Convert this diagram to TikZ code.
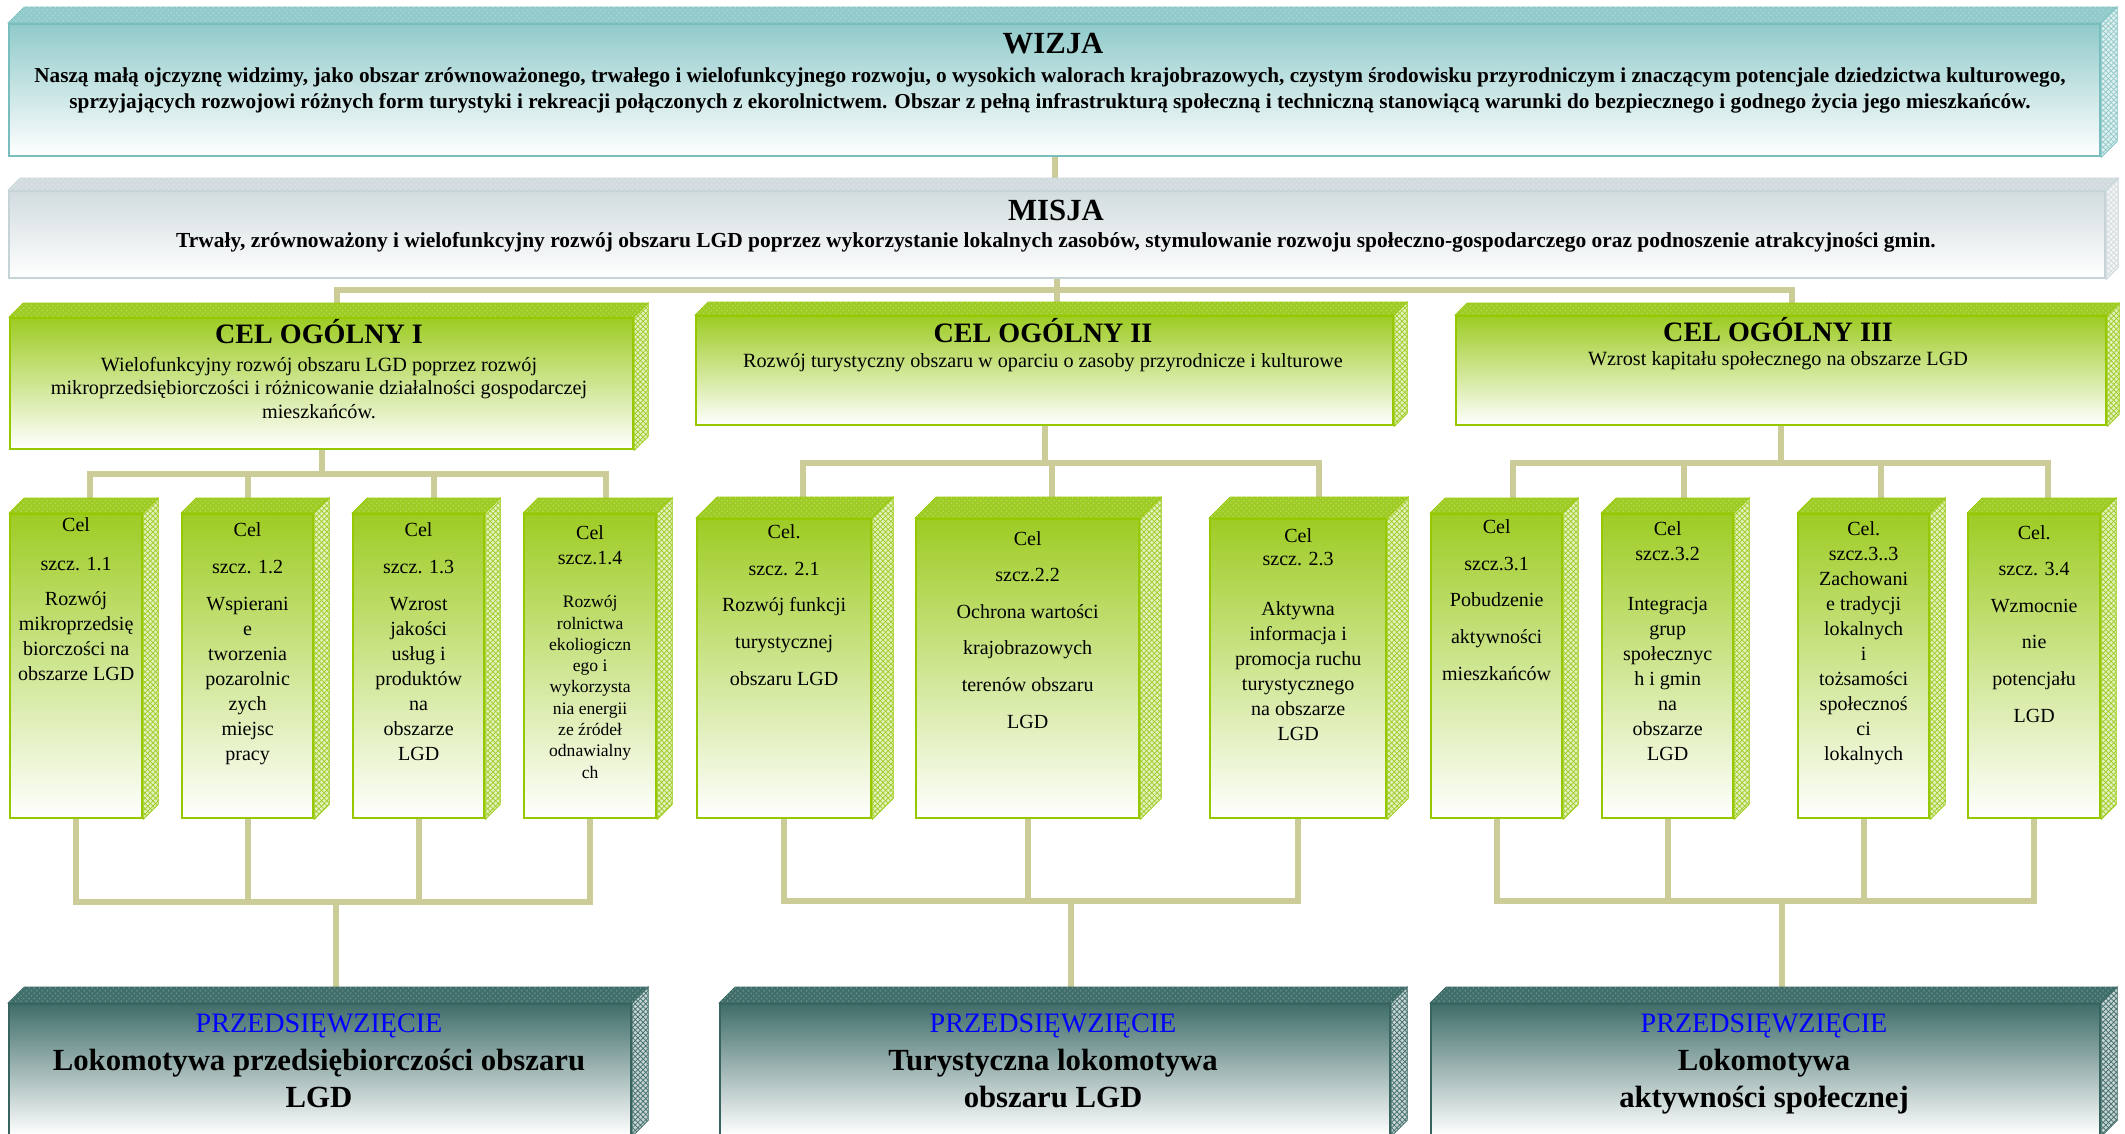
\documentclass[tikz,border=0pt]{standalone}
\usepackage{fontspec}
\setmainfont{Liberation Serif}
\usetikzlibrary{calc, backgrounds, patterns}
\definecolor{wizjacol}{RGB}{145,202,202}
\definecolor{wizjaline}{RGB}{120,190,190}
\definecolor{misjacol}{RGB}{210,220,223}
\definecolor{misjaline}{RGB}{198,212,216}
\definecolor{celcol}{RGB}{158,204,36}
\definecolor{celline}{RGB}{150,200,0}
\definecolor{przcol}{RGB}{64,110,106}
\definecolor{przline}{RGB}{56,100,96}
\definecolor{linkcol}{RGB}{204,204,153}
\definecolor{przblue}{RGB}{0,0,255}

% top and side faces of a box drawn from its front node
\newcommand{\boxfaces}[4][15]{%
  \filldraw[draw=#4, fill=#3, postaction={pattern=crosshatch dots, pattern color=#3!75!white}]
    (#2.north west) -- ++(#1,-#1) -- ($(#2.north east)+(#1,-#1)$) -- (#2.north east) -- cycle;
  \filldraw[draw=#4, fill=#3!30!white, postaction={pattern=crosshatch, pattern color=#3}]
    (#2.north east) -- ++(#1,-#1) -- ($(#2.south east)+(#1,-#1)$) -- (#2.south east) -- cycle;
}

\begin{document}
\begin{tikzpicture}[
    x=0.02cm, y=-0.02cm,
    dims/.style 2 args={minimum width=#1*0.02cm, minimum height=#2*0.02cm},
    front/.style={inner sep=0pt, anchor=north west, line width=1.3pt},
    wizjabox/.style={front, draw=wizjaline, top color=wizjacol, middle color=wizjacol!35!white, bottom color=white},
    misjabox/.style={front, draw=misjaline, top color=misjacol, middle color=misjacol!40!white, bottom color=white},
    celbox/.style={front, draw=celline, top color=celcol, middle color=celcol!30!white, bottom color=white},
    przbox/.style={front, draw=przline, top color=przcol, middle color=przcol!35!white, bottom color=white},
    txt/.style={anchor=base, align=center, inner sep=0pt},
    celtxt/.style={txt, font=\fontsize{11.4}{14.2}\selectfont},
    celwide/.style={txt, font=\fontsize{11.4}{20.8}\selectfont},
    conn/.style={draw=linkcol, line width=3.5pt}
  ]
  \useasboundingbox (0,0) rectangle (2125,1133);

  % Wizja and misja (multi-line texts sit on their last baseline)
  \node[wizjabox, dims={2091}{132}] (wizja) at (8,23) {};
  \boxfaces[16]{wizja}{wizjacol}{wizjaline}
  \node[txt, font=\bfseries\fontsize{17.5}{20}\selectfont] (wizjat) at (1053,53) {WIZJA};
  \node[txt, font=\bfseries\fontsize{12.1}{14.8}\selectfont] (wizjab) at (1050,108)
    {Naszą małą ojczyznę widzimy, jako obszar zrównoważonego, trwałego i wielofunkcyjnego rozwoju, o wysokich walorach krajobrazowych, czystym środowisku przyrodniczym i znaczącym potencjale dziedzictwa kulturowego,\\
     sprzyjających rozwojowi różnych form turystyki i rekreacji połączonych z ekorolnictwem. Obszar z pełną infrastrukturą społeczną i techniczną stanowiącą warunki do bezpiecznego i godnego życia jego mieszkańców.};

  \node[misjabox, dims={2096}{87}] (misja) at (8,190) {};
  \boxfaces[12]{misja}{misjacol}{misjaline}
  \node[txt, font=\bfseries\fontsize{17.5}{20}\selectfont] (misjat) at (1056,220) {MISJA};
  \node[txt, font=\bfseries\fontsize{12.2}{14.8}\selectfont] (misjab) at (1056,247)
    {Trwały, zrównoważony i wielofunkcyjny rozwój obszaru LGD poprzez wykorzystanie lokalnych zasobów, stymulowanie rozwoju społeczno-gospodarczego oraz podnoszenie atrakcyjności gmin.};

  % Cele ogolne
  \node[celbox, dims={623}{131}] (cel1) at (9,317) {};
  \boxfaces[14]{cel1}{celcol}{celline}
  \node[txt, font=\bfseries\fontsize{16}{19}\selectfont] (cel1t) at (319,343) {CEL OGÓLNY I};
  \node[txt, font=\fontsize{11.5}{13.1}\selectfont] (cel1b) at (319,418)
    {Wielofunkcyjny rozwój obszaru LGD poprzez rozwój\\ mikroprzedsiębiorczości i różnicowanie działalności gospodarczej\\ mieszkańców.};

  \node[celbox, dims={697}{109}] (cel2) at (695,315) {};
  \boxfaces[13]{cel2}{celcol}{celline}
  \node[txt, font=\bfseries\fontsize{16}{19}\selectfont] (cel2t) at (1043,342) {CEL OGÓLNY II};
  \node[txt, font=\fontsize{11.5}{13.1}\selectfont] (cel2b) at (1043,367)
    {Rozwój turystyczny obszaru w oparciu o zasoby przyrodnicze i kulturowe};

  \node[celbox, dims={650}{109}] (cel3) at (1455,315) {};
  \boxfaces[12]{cel3}{celcol}{celline}
  \node[txt, font=\bfseries\fontsize{16}{19}\selectfont] (cel3t) at (1778,341) {CEL OGÓLNY III};
  \node[txt, font=\fontsize{11.5}{13.1}\selectfont] (cel3b) at (1778,365)
    {Wzrost kapitału społecznego na obszarze LGD};

  % Cele szczegolowe 1
  \node[celbox, dims={132}{304}] (s11) at (9,513) {};
  \node[celbox, dims={131}{304}] (s12) at (181,513) {};
  \node[celbox, dims={131}{304}] (s13) at (352,513) {};
  \node[celbox, dims={132}{304}] (s14) at (523,513) {};
  % Cele szczegolowe 2
  \node[celbox, dims={174}{299}] (s21) at (696,518) {};
  \node[celbox, dims={223}{299}] (s22) at (915,518) {};
  \node[celbox, dims={176}{299}] (s23) at (1209,518) {};
  % Cele szczegolowe 3
  \node[celbox, dims={131}{304}] (s31) at (1430,513) {};
  \node[celbox, dims={131}{304}] (s32) at (1601,513) {};
  \node[celbox, dims={131}{304}] (s33) at (1797,513) {};
  \node[celbox, dims={132}{304}] (s34) at (1967,513) {};
  \foreach \n in {s11,s12,s13,s14,s31,s32,s33,s34}
    \boxfaces{\n}{celcol}{celline};
  \foreach \n in {s21,s22,s23}
    \boxfaces[21]{\n}{celcol}{celline};

  \node[celtxt] (t11) at ($(s11.north)+(0,167)$)
    {Cel\\[8pt] szcz. 1.1\\[5.7pt] Rozwój\\ mikroprzedsię\\ biorczości na\\ obszarze LGD};
  \node[celtxt] (t12) at ($(s12.north)+(0,247)$)
    {Cel\\[6.8pt] szcz. 1.2\\[6.8pt] Wspierani\\ e\\ tworzenia\\ pozarolnic\\ zych\\ miejsc\\ pracy};
  \node[celtxt] (t13) at ($(s13.north)+(0,247)$)
    {Cel\\[6.8pt] szcz. 1.3\\[6.8pt] Wzrost\\ jakości\\ usług i\\ produktów\\ na\\ obszarze\\ LGD};
  \node[txt, font=\fontsize{10}{12.1}\selectfont] (t14) at ($(s14.north)+(0,265)$)
    {{\fontsize{11.4}{14}\selectfont Cel}\\[2.1pt] {\fontsize{11.4}{14}\selectfont szcz.1.4}\\[12.9pt]
     Rozwój\\ rolnictwa\\ ekoliogiczn\\ ego i\\ wykorzysta\\ nia energii\\ ze źródeł\\ odnawialny\\ ch};
  \node[celwide] (t21) at ($(s21.north)+(0,167)$)
    {Cel.\\ szcz. 2.1\\ Rozwój funkcji\\ turystycznej\\ obszaru LGD};
  \node[celwide] (t22) at ($(s22.north)+(0,210)$)
    {Cel\\ szcz.2.2\\ Ochrona wartości\\ krajobrazowych\\ terenów obszaru\\ LGD};
  \node[celtxt] (t23) at ($(s23.north)+(0,222)$)
    {Cel\\[-1pt] szcz. 2.3\\[13.9pt] Aktywna\\ informacja i\\ promocja ruchu\\ turystycznego\\ na obszarze\\ LGD};
  \node[celwide] (t31) at ($(s31.north)+(0,167)$)
    {Cel\\ szcz.3.1\\ Pobudzenie\\ aktywności\\ mieszkańców};
  \node[celtxt] (t32) at ($(s32.north)+(0,247)$)
    {Cel\\ szcz.3.2\\[14.2pt] Integracja\\ grup\\ społecznyc\\ h i gmin\\ na\\ obszarze\\ LGD};
  \node[celtxt] (t33) at ($(s33.north)+(0,247)$)
    {Cel.\\ szcz.3..3\\ Zachowani\\ e tradycji\\ lokalnych\\ i\\ tożsamości\\ społecznoś\\ ci\\ lokalnych};
  \node[celwide] (t34) at ($(s34.north)+(0,209)$)
    {Cel.\\ szcz. 3.4\\ Wzmocnie\\ nie\\ potencjału\\ LGD};

  % Przedsiewziecia
  \node[przbox, dims={622}{131}] (prz1) at (8,1003) {};
  \node[przbox, dims={670}{131}] (prz2) at (719,1003) {};
  \node[przbox, dims={669}{131}] (prz3) at (1430,1003) {};
  \foreach \n in {prz1,prz2,prz3}
    \boxfaces[16]{\n}{przcol}{przline};
  \node[txt, text=przblue, font=\fontsize{16}{19}\selectfont] (prz1t) at (319,1032) {PRZEDSIĘWZIĘCIE};
  \node[txt, font=\bfseries\fontsize{17.5}{21}\selectfont] (prz1b) at (319,1107) {Lokomotywa przedsiębiorczości obszaru\\ LGD};
  \node[txt, text=przblue, font=\fontsize{16}{19}\selectfont] (prz2t) at (1053,1032) {PRZEDSIĘWZIĘCIE};
  \node[txt, font=\bfseries\fontsize{17.5}{21}\selectfont] (prz2b) at (1053,1107) {Turystyczna lokomotywa\\ obszaru LGD};
  \node[txt, text=przblue, font=\fontsize{16}{19}\selectfont] (prz3t) at (1764,1032) {PRZEDSIĘWZIĘCIE};
  \node[txt, font=\bfseries\fontsize{17.5}{21}\selectfont] (prz3b) at (1764,1107) {Lokomotywa\\ aktywności społecznej};

  % Connectors
  \begin{scope}[on background layer]
    \draw[conn] (wizja.south) -- (wizja.south |- misja.north);
    \coordinate (jm) at ($(misja.south)+(0,11)$);
    \draw[conn] (misja.south) -- (jm |- cel2.north);
    \draw[conn] ($(cel1.north)+(15,0)$) |- (jm) -| ($(cel3.north)+(11,0)$);

    \coordinate (j1) at ($(cel1.south)+(0,24)$);
    \coordinate (j2) at ($(cel2.south)+(0,37)$);
    \coordinate (j3) at ($(cel3.south)+(0,37)$);
    \draw[conn] (cel1.south) -- (j1);
    \draw[conn] (cel2.south) -- (j2);
    \draw[conn] (cel3.south) -- (j3);
    \foreach \n/\dx in {s11/14, s12/0, s13/15, s14/16}
      \draw[conn] ($(\n.north)+(\dx,0)$) |- (j1);
    \foreach \n/\dx in {s21/19, s22/24, s23/21}
      \draw[conn] ($(\n.north)+(\dx,0)$) |- (j2);
    \foreach \n/\dx in {s31/16, s32/16, s33/17, s34/14}
      \draw[conn] ($(\n.north)+(\dx,0)$) |- (j3);

    \coordinate (k1) at ($(prz1.north)+(16,-101)$);
    \coordinate (k2) at ($(prz2.north)+(16,-102)$);
    \coordinate (k3) at ($(prz3.north)+(16,-102)$);
    \draw[conn] (k1) -- ($(prz1.north)+(16,0)$);
    \draw[conn] (k2) -- ($(prz2.north)+(16,0)$);
    \draw[conn] (k3) -- ($(prz3.north)+(16,0)$);
    \foreach \n in {s11,s12,s13,s14}
      \draw[conn] (\n.south) |- (k1);
    \foreach \n in {s21,s22,s23}
      \draw[conn] (\n.south) |- (k2);
    \foreach \n in {s31,s32,s33,s34}
      \draw[conn] (\n.south) |- (k3);
  \end{scope}
\end{tikzpicture}
\end{document}
